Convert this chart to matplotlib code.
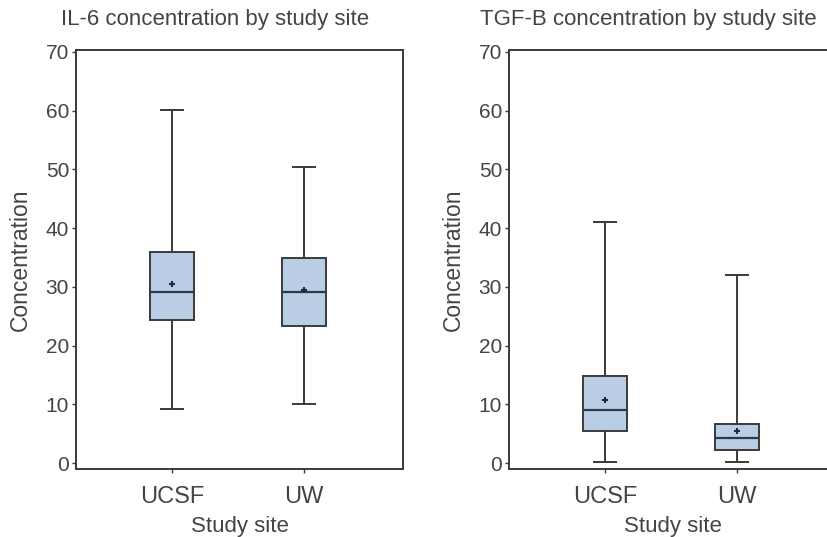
import numpy as np
import matplotlib
matplotlib.use("Agg")
import matplotlib.pyplot as plt

plt.rcParams['font.family'] = ['Liberation Sans', 'DejaVu Sans']

################################################
# box summary values
################################################
sites = ['UCSF', 'UW']

il6_whislo = [9.2, 10.0]
il6_q1 = [24.4, 23.4]
il6_med = [29.2, 29.1]
il6_mean = [30.5, 29.4]
il6_q3 = [35.9, 34.9]
il6_whishi = [60.1, 50.4]

tgf_whislo = [0.2, 0.2]
tgf_q1 = [5.4, 2.3]
tgf_med = [9.0, 4.2]
tgf_mean = [10.8, 5.4]
tgf_q3 = [14.8, 6.7]
tgf_whishi = [41.1, 32.0]

titles = ['IL-6 concentration by study site', 'TGF-B concentration by study site']
################################################

grey = '#3a3a3a'
fill = '#b9cde5'


def make_stats(lo, q1, med, mean, q3, hi):
    stats = []
    for i in range(len(sites)):
        stats.append(dict(label=sites[i], whislo=lo[i], q1=q1[i], med=med[i],
                          mean=mean[i], q3=q3[i], whishi=hi[i], fliers=[]))
    return stats


fig = plt.figure(figsize=(8.28, 5.37), dpi=100)
ax1 = fig.add_axes([76 / 828, 68 / 537, 327 / 828, 419 / 537])
ax2 = fig.add_axes([509 / 828, 68 / 537, 327 / 828, 419 / 537])

all_stats = [make_stats(il6_whislo, il6_q1, il6_med, il6_mean, il6_q3, il6_whishi),
             make_stats(tgf_whislo, tgf_q1, tgf_med, tgf_mean, tgf_q3, tgf_whishi)]

for ax, st in zip([ax1, ax2], all_stats):
    ax.bxp(st, positions=[1, 2], widths=0.33, capwidths=0.17, showmeans=True,
           patch_artist=True, showfliers=False,
           boxprops=dict(facecolor=fill, edgecolor=grey, linewidth=1.4),
           medianprops=dict(color='#2b3a4a', linewidth=1.6),
           whiskerprops=dict(color=grey, linewidth=1.4),
           capprops=dict(color=grey, linewidth=1.4),
           meanprops=dict(marker='+', markeredgecolor='#1a2a40', markersize=4,
                          markeredgewidth=1.5))
    ax.set_xlim(0.27, 2.75)
    ax.set_ylim(-1, 70.3)
    ax.set_yticks(range(0, 71, 10))
    ax.set_xticks([1, 2])
    ax.set_xticklabels(sites)
    for s in ax.spines.values():
        s.set_color(grey)
        s.set_linewidth(1.4)
    ax.tick_params(axis='both', colors=grey, labelcolor='#444444',
                   length=3, width=1)
    ax.tick_params(axis='y', labelsize=15, pad=2)
    ax.tick_params(axis='x', labelsize=17, pad=9)
    ax.set_xlabel('Study site', fontsize=16, color='#444444', labelpad=6)
    ax.set_ylabel('Concentration', fontsize=16.5, color='#444444', labelpad=10)

fig.text(215 / 828, 1 - 20 / 537, titles[0], ha='center', va='center',
         fontsize=16, color='#444444')
fig.text(648 / 828, 1 - 20 / 537, titles[1], ha='center', va='center',
         fontsize=16, color='#444444')

fig.savefig('out.png', dpi=100)
